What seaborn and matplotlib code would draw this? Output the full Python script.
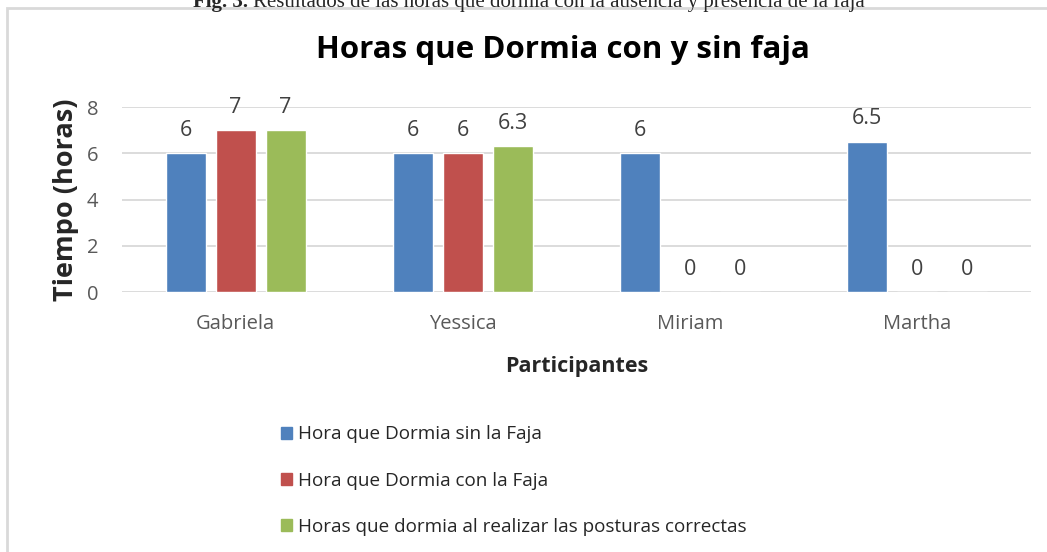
import matplotlib
matplotlib.use("Agg")
import matplotlib.pyplot as plt
import matplotlib.patches as mpatches
import seaborn as sns
import pandas as pd

participantes = ["Gabriela", "Yessica", "Miriam", "Martha"]
series = ["Hora que Dormia sin la Faja",
          "Hora que Dormia con la Faja",
          "Horas que dormia al realizar las posturas correctas"]
sin_faja = [6, 6, 6, 6.5]
con_faja = [7, 6, 0, 0]
posturas = [7, 6.3, 0, 0]
colores = ["#4f81bd", "#c0504d", "#9bbb59"]

rows = []
for i, p in enumerate(participantes):
    for s, vals in zip(series, [sin_faja, con_faja, posturas]):
        rows.append({"Participante": p, "Serie": s, "Horas": vals[i]})
df = pd.DataFrame(rows)

sns.set_style("white")
plt.rcParams['font.family'] = ['Open Sans', 'DejaVu Sans']

fig = plt.figure(figsize=(10.47, 5.52), dpi=100)
ax = fig.add_axes([0.1165, 0.471, 0.8682, 0.335])

sns.barplot(data=df, x="Participante", y="Horas", hue="Serie", palette=colores,
            width=0.66, gap=0.2, ax=ax, legend=False, saturation=1, errorbar=None)

for cont in ax.containers:
    ax.bar_label(cont, labels=[f"{v:g}" for v in cont.datavalues],
                 padding=9, fontsize=15.5, color="#404040")

ax.set_ylim(0, 8)
ax.set_yticks([0, 2, 4, 6, 8])
ax.set_xlim(-0.5, 3.5)
ax.yaxis.grid(True, color="#d9d9d9", linewidth=1.3)
ax.set_axisbelow(True)
for sp in ax.spines.values():
    sp.set_visible(False)
ax.tick_params(axis="both", length=0, labelsize=14.5, labelcolor="#595959")
ax.tick_params(axis="y", pad=17)
ax.tick_params(axis="x", pad=16)
ax.set_ylabel("Tiempo (horas)", fontsize=19.5, fontweight="bold", labelpad=6)
ax.set_xlabel("Participantes", fontsize=15.5, fontweight="bold", labelpad=16)

fig.text(0.538, 0.91, "Horas que Dormia con y sin faja", ha="center", va="center",
         fontsize=22.5, fontweight="bold", color="#000000")

# caption, partly cut off at the top like in the source
cap_y = 0.997
fig.text(0.184, cap_y, "Fig. 3.", ha="left", va="center", fontsize=15,
         fontweight="bold", family="Liberation Serif")
fig.text(0.2415, cap_y, "Resultados de las horas que dormia con la ausencia y presencia de la faja",
         ha="left", va="center", fontsize=15, family="Liberation Serif")

handles = [mpatches.Patch(color=c, label=s) for c, s in zip(colores, series)]
fig.legend(handles=handles, loc="upper left", bbox_to_anchor=(0.252, 0.26),
           frameon=False, fontsize=13.6, handlelength=0.6, handleheight=0.6,
           handletextpad=0.3, labelspacing=1.5)

border = mpatches.Rectangle((7 / 1047, -0.1), 1.2, 1 - 8 / 552 + 0.1,
                            transform=fig.transFigure, fill=False,
                            edgecolor="#d9d9d9", linewidth=2)
fig.patches.append(border)

fig.savefig("out.png", dpi=100)
